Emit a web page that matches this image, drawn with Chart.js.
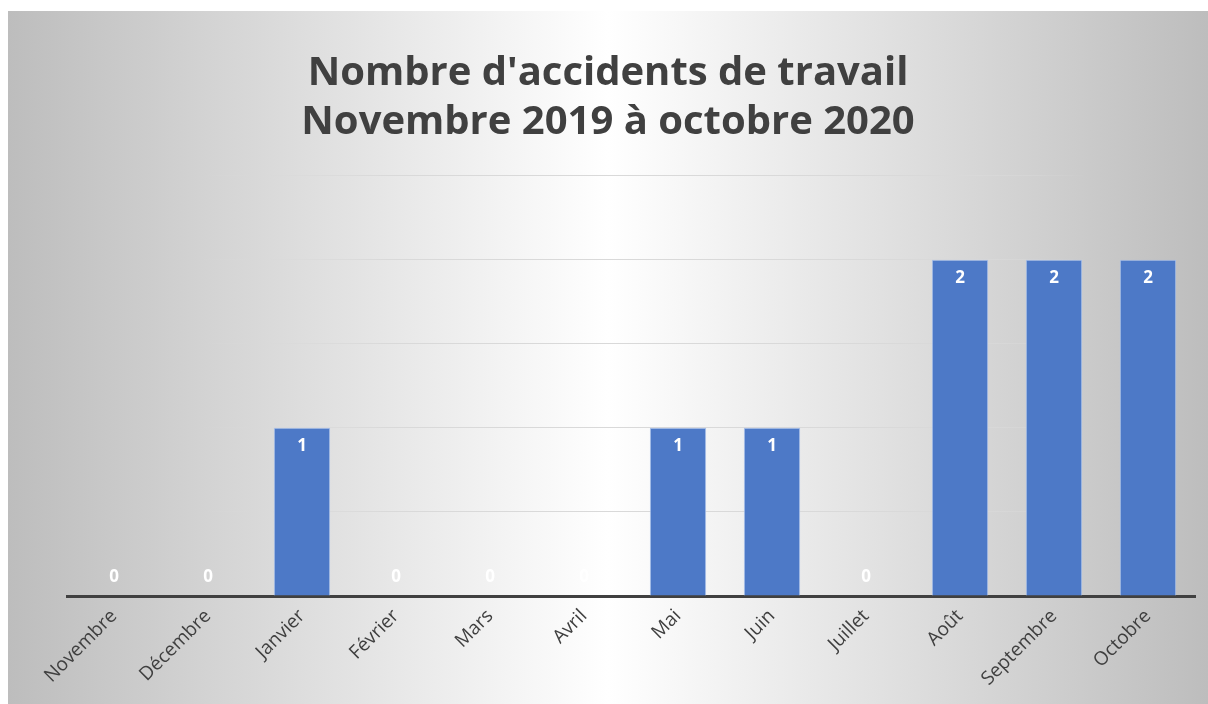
<!DOCTYPE html>
<html>
<head>
<meta charset="utf-8">
<script src="https://cdn.jsdelivr.net/npm/chart.js@4/dist/chart.umd.min.js"></script>
<style>
  html, body { margin: 0; padding: 0; background: #fff; }
  #wrap { width: 1208px; height: 704px; }
</style>
</head>
<body>
<div id="wrap"><canvas id="accidentsChart"></canvas></div>
<script>
  const months = ['Novembre', 'Décembre', 'Janvier', 'Février', 'Mars', 'Avril',
    'Mai', 'Juin', 'Juillet', 'Août', 'Septembre', 'Octobre'];
  const accidents = [0, 0, 1, 0, 0, 0, 1, 1, 0, 2, 2, 2];
  const titleLines = ["Nombre d'accidents de travail", 'Novembre 2019 à octobre 2020'];

  // grey / white / grey panel behind everything
  const panelBackground = {
    id: 'panelBackground',
    beforeDraw(chart) {
      const { ctx, width, height } = chart;
      ctx.save();
      ctx.fillStyle = '#ffffff';
      ctx.fillRect(0, 0, width, height);
      const g = ctx.createLinearGradient(8, 0, width, 0);
      g.addColorStop(0, '#bdbdbd');
      g.addColorStop(0.5, '#ffffff');
      g.addColorStop(1, '#bdbdbd');
      ctx.fillStyle = g;
      ctx.fillRect(8, 11, width - 8, height - 11);
      ctx.restore();
    }
  };

  // value labels, inside the top of each bar (above the axis for zeros)
  const barValues = {
    id: 'barValues',
    afterDatasetsDraw(chart) {
      const { ctx } = chart;
      const meta = chart.getDatasetMeta(0);
      ctx.save();
      ctx.font = 'bold 17px "Open Sans"';
      ctx.fillStyle = '#ffffff';
      ctx.textAlign = 'center';
      ctx.textBaseline = 'middle';
      meta.data.forEach((bar, i) => {
        const v = accidents[i];
        const y = v > 0 ? bar.y + 18 : bar.y - 19;
        ctx.fillText(String(v), bar.x, y);
      });
      ctx.restore();
    }
  };

  const ctx = document.getElementById('accidentsChart').getContext('2d');

  // gridlines fade out where the background turns grey
  const gridFade = ctx.createLinearGradient(0, 0, 1208, 0);
  gridFade.addColorStop(0, 'rgba(217,217,217,0)');
  gridFade.addColorStop(0.16, 'rgba(217,217,217,0)');
  gridFade.addColorStop(0.32, 'rgba(217,217,217,1)');
  gridFade.addColorStop(0.8, 'rgba(217,217,217,1)');
  gridFade.addColorStop(0.9, 'rgba(217,217,217,0)');
  gridFade.addColorStop(1, 'rgba(217,217,217,0)');

  const accidentsChart = new Chart(ctx, {
    type: 'bar',
    data: {
      labels: months,
      datasets: [{
        label: "Accidents de travail",
        data: accidents,
        backgroundColor: '#4d79c7',
        borderColor: '#a9c1ea',
        borderWidth: 1,
        categoryPercentage: 1,
        barPercentage: 0.6
      }]
    },
    options: {
      responsive: true,
      maintainAspectRatio: false,
      animation: false,
      layout: { padding: { top: 11, left: 21, right: 13, bottom: 0 } },
      plugins: {
        legend: { display: false },
        tooltip: { enabled: false },
        title: {
          display: true,
          text: titleLines,
          color: '#404040',
          font: { family: 'Open Sans', size: 40, weight: 'bold', lineHeight: 1.22 },
          padding: { top: 38, bottom: 29 }
        }
      },
      scales: {
        x: {
          grid: { display: false },
          border: { display: true, color: '#404040', width: 3 },
          ticks: {
            color: '#404040',
            font: { family: 'Open Sans', size: 19 },
            maxRotation: 45,
            minRotation: 45,
            padding: 1
          },
          afterFit(scale) { scale.height = 108; }
        },
        y: {
          min: 0,
          max: 2.5,
          ticks: { display: false, stepSize: 0.5 },
          grid: { color: gridFade, drawTicks: false, lineWidth: 1 },
          border: { display: false },
          afterFit(scale) { scale.width = 46; }
        }
      }
    },
    plugins: [panelBackground, barValues]
  });
</script>
</body>
</html>
